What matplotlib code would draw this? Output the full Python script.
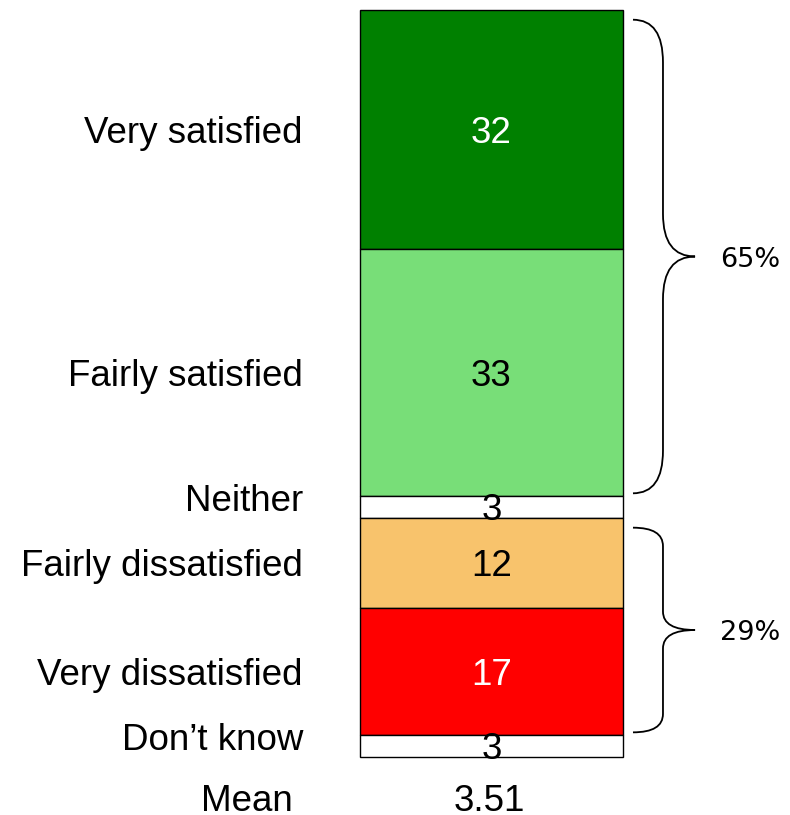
import matplotlib
matplotlib.use('Agg')
import matplotlib.pyplot as plt
from matplotlib.path import Path
from matplotlib.patches import PathPatch

categories = ['Very satisfied', 'Fairly satisfied', 'Neither',
              'Fairly dissatisfied', 'Very dissatisfied', 'Don\u2019t know']
values = [32, 33, 3, 12, 17, 3]
colors = ['#008000', '#78DE78', '#FFFFFF', '#F8C36C', '#FF0000', '#FFFFFF']
text_colors = ['white', 'black', 'black', 'black', 'white', 'black']
mean_label = 'Mean'
mean_value = '3.51'
# groups bracketed on the right: (first index, last index, label)
groups = [(0, 1, '65%'), (3, 4, '29%')]

plt.rcParams['font.family'] = ['Liberation Sans', 'DejaVu Sans']

fig = plt.figure(figsize=(7.9, 8.15), dpi=100)
ax = fig.add_axes([360 / 790, 1 - 757 / 815, 263 / 790, 747 / 815])
ax.set_xlim(0, 1)
ax.set_ylim(100, 0)
ax.axis('off')

lab = ax.get_yaxis_transform()  # x in axes coords, y in data
starts = []
bottom = 0
for cat, v, c, tc in zip(categories, values, colors, text_colors):
    ax.bar(0.5, v, width=1, bottom=bottom, color=c, edgecolor='black',
           linewidth=1.0, clip_on=False)
    mid = bottom + v / 2
    ax.text(0.5, mid, str(v), ha='center', va='center_baseline',
            fontsize=26.5, color=tc, clip_on=False)
    off = -1.3 if v < 5 else 0
    ax.text(-0.217, mid + off, cat, ha='right', va='center_baseline',
            fontsize=26.5, transform=lab, clip_on=False)
    starts.append(bottom)
    bottom += v

ax.text(-0.43, 105.4, mean_label, ha='center', va='center_baseline',
        fontsize=26.5, transform=lab, clip_on=False)
ax.text(0.49, 105.4, mean_value, ha='center', va='center_baseline',
        fontsize=26.5, clip_on=False)


def brace(y0, y1, label):
    x0, x1, x2 = 1.038, 1.152, 1.274
    ym = (y0 + y1) / 2
    r = (y1 - y0) * 0.09
    verts = [(x0, y0), (x1, y0), (x1, y0 + r), (x1, ym - r), (x1, ym),
             (x2, ym), (x1, ym), (x1, ym + r), (x1, y1 - r), (x1, y1),
             (x0, y1)]
    codes = [Path.MOVETO, Path.CURVE3, Path.CURVE3, Path.LINETO,
             Path.CURVE3, Path.CURVE3, Path.CURVE3, Path.CURVE3,
             Path.LINETO, Path.CURVE3, Path.CURVE3]
    ax.add_patch(PathPatch(Path(verts, codes), fill=False, lw=1.3,
                           edgecolor='black', transform=lab, clip_on=False))
    ax.text(1.369, ym, label, ha='left', va='center_baseline', fontsize=19.5,
            family='DejaVu Sans', transform=lab, clip_on=False)


for i0, i1, label in groups:
    y0 = starts[i0] + 1.3
    y1 = starts[i1] + values[i1] - 0.3
    brace(y0, y1, label)

fig.savefig('out.png', dpi=100)
